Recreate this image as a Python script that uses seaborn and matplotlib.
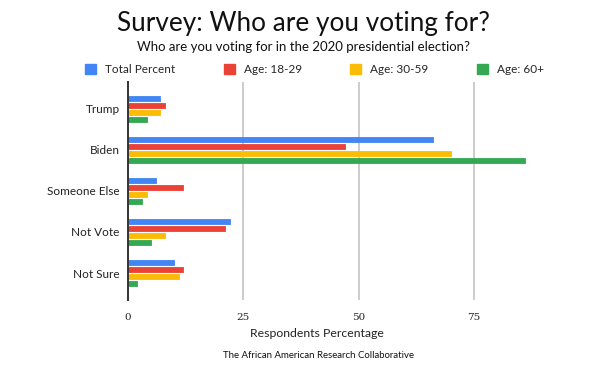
import pandas as pd
import matplotlib
matplotlib.use("Agg")
import matplotlib.pyplot as plt
import seaborn as sns
from matplotlib.patches import Patch

# values
categories = ["Trump", "Biden", "Someone Else", "Not Vote", "Not Sure"]
series_names = ["Total Percent", "Age: 18-29", "Age: 30-59", "Age: 60+"]
total_percent = [7, 66, 6, 22, 10]
age_18_29 = [8, 47, 12, 21, 12]
age_30_59 = [7, 70, 4, 8, 11]
age_60_plus = [4, 86, 3, 5, 2]
x_ticks = [0, 25, 50, 75]

colors = ["#4285F4", "#EA4335", "#FBBC04", "#34A853"]

rows = []
for name, vals in zip(series_names, [total_percent, age_18_29, age_30_59, age_60_plus]):
    for cat, v in zip(categories, vals):
        rows.append({"Answer": cat, "Group": name, "Percent": v})
df = pd.DataFrame(rows)

sns.set_style("white")
plt.rcParams["font.family"] = ["Lato", "DejaVu Sans"]

fig = plt.figure(figsize=(6.07, 3.71), dpi=100)
ax = fig.add_axes([0.211, 0.191, 0.684, 0.588])

sns.barplot(data=df, y="Answer", x="Percent", hue="Group", order=categories,
            hue_order=series_names, palette=colors, orient="h", width=0.68,
            gap=0.33, ax=ax, legend=False, saturation=1, errorbar=None)

# rounded look for bar ends
for p in ax.patches:
    p.set_edgecolor(p.get_facecolor())
    p.set_linewidth(0.6)
    p.set_joinstyle("round")

ax.set_xlim(0, 90)
ax.set_ylim(4.66, -0.65)
ax.set_xticks(x_ticks)
ax.set_xticklabels([str(t) for t in x_ticks], family="DejaVu Serif", fontsize=7.5, color="#222222")
ax.tick_params(axis="x", length=0, pad=9)
ax.tick_params(axis="y", length=0, pad=6, labelsize=8.5, labelcolor="#222222")
ax.set_ylabel("")
ax.set_xlabel("Respondents Percentage", fontsize=8.8, color="#222222")
ax.xaxis.set_label_coords(0.455, -0.13)

for t in [25, 50, 75]:
    ax.axvline(t, color="#cccccc", linewidth=1.4, zorder=0)
ax.grid(False)
for s in ["top", "right", "bottom"]:
    ax.spines[s].set_visible(False)
ax.spines["left"].set_color("#333333")
ax.spines["left"].set_linewidth(1.4)
ax.spines["left"].set_zorder(5)

fig.text(0.5, 0.938, "Survey: Who are you voting for?", ha="center", va="center",
         fontsize=18.8, color="#111111")
fig.text(0.5, 0.874, "Who are you voting for in the 2020 presidential election?",
         ha="center", va="center", fontsize=9.5, color="#111111")
fig.text(0.525, 0.043, "The African American Research Collaborative", ha="center",
         va="center", fontsize=6.9, color="#111111")

handles = [Patch(facecolor=c, edgecolor=c) for c in colors]
fig.legend(handles, series_names, ncol=4, loc="center", bbox_to_anchor=(0.518, 0.813),
           frameon=False, fontsize=8.5, handlelength=0.95, handleheight=0.95,
           handletextpad=0.75, columnspacing=4.1, borderpad=0)

fig.savefig("out.png", dpi=100)
